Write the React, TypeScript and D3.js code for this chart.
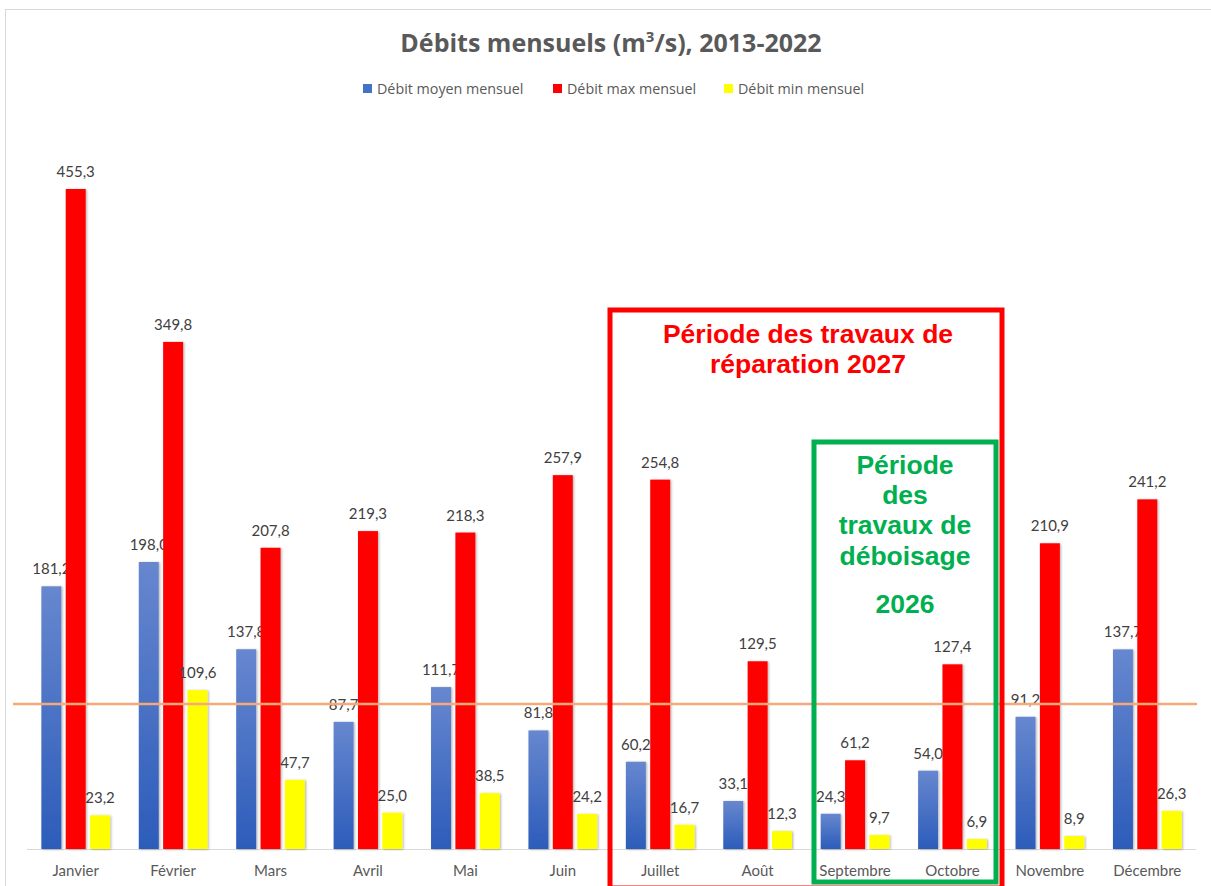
import React from 'react';
import * as d3 from 'd3';

const months = ['Janvier', 'Février', 'Mars', 'Avril', 'Mai', 'Juin', 'Juillet', 'Août', 'Septembre', 'Octobre', 'Novembre', 'Décembre'];
const seriesNames = ['Débit moyen mensuel', 'Débit max mensuel', 'Débit min mensuel'];
const moyen = [181.2, 198.0, 137.8, 87.7, 111.7, 81.8, 60.2, 33.1, 24.3, 54.0, 91.2, 137.7];
const maxi = [455.3, 349.8, 207.8, 219.3, 218.3, 257.9, 254.8, 129.5, 61.2, 127.4, 210.9, 241.2];
const mini = [23.2, 109.6, 47.7, 25.0, 38.5, 24.2, 16.7, 12.3, 9.7, 6.9, 8.9, 26.3];
const refLine = 100;
const redNote = ['Période des travaux de', 'réparation 2027'];
const greenNote = ['Période', 'des', 'travaux de', 'déboisage'];
const greenYear = '2026';

const W = 1211;
const H = 886;
const baseY = 849;
const font = 'Lato, "Open Sans", sans-serif';
const headFont = '"Open Sans", Lato, sans-serif';
const noteFont = '"Liberation Sans", Arial, sans-serif';
const textGray = '#595959';
const labelGray = '#404040';
const colors = ['url(#blueGrad)', '#ff0000', '#ffff00'];
const legendColors = ['#4472c4', '#ff0000', '#ffff00'];

const fmt = (v: number) => v.toFixed(1).replace('.', ',');

const App: React.FC = () => {
  const x0 = d3.scaleBand<string>().domain(months).range([27, 1196]);
  const x1 = d3.scaleBand<string>().domain(seriesNames).range([0, x0.bandwidth()]).paddingInner(0.18).paddingOuter(0.59);
  const y = d3.scaleLinear().domain([0, 500]).range([baseY, baseY - 500 * 1.4496]);
  const data = [moyen, maxi, mini];

  const legendX = [363, 553, 724];

  return (
    <svg width={W} height={H} style={{ position: 'absolute', left: 0, top: 0, background: '#fff' }}>
      <defs>
        <linearGradient id="blueGrad" x1="0" y1="0" x2="0" y2="1">
          <stop offset="0%" stopColor="#6787cf" />
          <stop offset="100%" stopColor="#2c5cba" />
        </linearGradient>
        <filter id="shadow" x="-30%" y="-5%" width="160%" height="110%">
          <feDropShadow dx="1.2" dy="0.5" stdDeviation="1.2" floodColor="#000" floodOpacity="0.3" />
        </filter>
      </defs>
      <rect x={5.5} y={9.5} width={W + 20} height={H + 20} fill="#fff" stroke="#d9d9d9" />

      {/* title */}
      <text x={611} y={52} textAnchor="middle" fontFamily={headFont} fontWeight="bold" fontSize={25} fill={textGray}>
        Débits mensuels (m<tspan fontSize={15} dy={-10}>3</tspan><tspan dy={10}>/s), 2013-2022</tspan>
      </text>

      {/* legend */}
      {seriesNames.map((s, i) => (
        <g key={s}>
          <rect x={legendX[i]} y={84} width={9} height={9} fill={legendColors[i]} />
          <text x={legendX[i] + 14} y={93.5} fontFamily={headFont} fontSize={14.3} fill={textGray}>{s}</text>
        </g>
      ))}

      {/* axis */}
      <line x1={27} x2={1196} y1={baseY + 0.5} y2={baseY + 0.5} stroke="#d9d9d9" strokeWidth={1} />
      {months.map(m => (
        <text key={m} x={(x0(m) ?? 0) + x0.bandwidth() / 2} y={876} textAnchor="middle" fontFamily={font} fontSize={15} fill={textGray}>{m}</text>
      ))}

      {/* bars */}
      {months.map((m, mi) => (
        <g key={m} transform={`translate(${x0(m)},0)`}>
          {seriesNames.map((s, si) => {
            const v = data[si][mi];
            const bx = x1(s) ?? 0;
            return (
              <g key={s}>
                <rect x={bx} y={y(v)} width={x1.bandwidth()} height={baseY - y(v)} fill={colors[si]} filter="url(#shadow)" />
                <text x={bx + x1.bandwidth() / 2} y={y(v) - 12} textAnchor="middle" fontFamily={font} fontSize={15} fill={labelGray}>{fmt(v)}</text>
              </g>
            );
          })}
        </g>
      ))}

      {/* reference line */}
      <line x1={13} x2={1197} y1={y(refLine)} y2={y(refLine)} stroke="#f5a878" strokeWidth={2.5} />

      {/* annotation boxes */}
      <rect x={610} y={310} width={392} height={578} fill="none" stroke="#ff0000" strokeWidth={5} />
      {redNote.map((t, i) => (
        <text key={t} x={808} y={343 + i * 29.5} textAnchor="middle" fontFamily={noteFont} fontWeight="bold" fontSize={26.5} fill="#ff0000">{t}</text>
      ))}
      <rect x={814} y={442} width={182} height={440} fill="none" stroke="#00b050" strokeWidth={5} />
      {greenNote.map((t, i) => (
        <text key={t} x={905} y={474 + i * 30.2} textAnchor="middle" fontFamily={noteFont} fontWeight="bold" fontSize={26.5} fill="#00b050">{t}</text>
      ))}
      <text x={905} y={613} textAnchor="middle" fontFamily={noteFont} fontWeight="bold" fontSize={26.5} fill="#00b050">{greenYear}</text>
    </svg>
  );
};

export default App;
